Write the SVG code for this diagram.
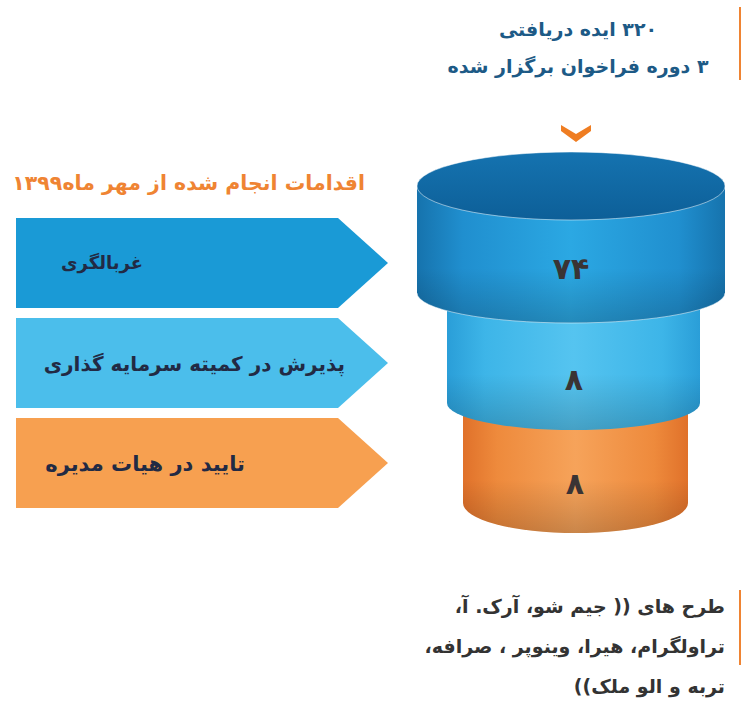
<svg xmlns="http://www.w3.org/2000/svg" width="741" height="708" viewBox="0 0 741 708">
<style>
text{font-family:"DejaVu Sans","Noto Sans",sans-serif;direction:rtl}
.hd{fill:#1d5a86;font-weight:bold;font-size:19px}
.or{fill:#ef8433;font-weight:bold;font-size:20.5px}
.lbl{fill:#222a44;font-weight:bold}
.num{fill:#3a3434;font-size:30px;font-weight:bold}
.bt{fill:#333;font-weight:bold;font-size:19px}
</style>
<defs>
<linearGradient id="gTop" x1="0" y1="0" x2="1" y2="0">
<stop offset="0" stop-color="#1673ad"/><stop offset="0.15" stop-color="#208fcf"/><stop offset="0.5" stop-color="#2ba8e3"/><stop offset="0.85" stop-color="#208fcf"/><stop offset="1" stop-color="#1673ad"/>
</linearGradient>
<linearGradient id="gTopLid" x1="0" y1="0" x2="0" y2="1">
<stop offset="0" stop-color="#1573b0"/><stop offset="1" stop-color="#0d5f98"/>
</linearGradient>
<linearGradient id="gMid" x1="0" y1="0" x2="1" y2="0">
<stop offset="0" stop-color="#2a9ed8"/><stop offset="0.15" stop-color="#3db5e8"/><stop offset="0.5" stop-color="#55c4f0"/><stop offset="0.85" stop-color="#3db5e8"/><stop offset="1" stop-color="#2a9ed8"/>
</linearGradient>
<linearGradient id="gBot" x1="0" y1="0" x2="1" y2="0">
<stop offset="0" stop-color="#e0712a"/><stop offset="0.15" stop-color="#ee8a3c"/><stop offset="0.5" stop-color="#f6a35a"/><stop offset="0.85" stop-color="#ee8a3c"/><stop offset="1" stop-color="#e0712a"/>
</linearGradient>
<linearGradient id="shade" x1="0" y1="0" x2="0" y2="1">
<stop offset="0" stop-color="#000" stop-opacity="0"/><stop offset="0.6" stop-color="#000" stop-opacity="0"/><stop offset="1" stop-color="#000" stop-opacity="0.18"/>
</linearGradient>
</defs>
<rect width="741" height="708" fill="#fff"/>
<rect x="739" y="7" width="2" height="73" fill="#ef8433"/>
<rect x="739" y="590" width="2" height="75" fill="#ef8433"/>

<g id="header">
<text class="hd" x="578" y="36" text-anchor="middle">۳۲۰ ایده دریافتی</text>
<text class="hd" x="578" y="73" text-anchor="middle">۳ دوره فراخوان برگزار شده</text>
</g>
<g id="chevron"><path d="M561,125 L576,134 L591,125 L591,131 L576,142 L561,131 Z" fill="#ef7d22"/></g>

<g id="title"><text class="or" x="365" y="190" text-anchor="start">اقدامات انجام شده از مهر ماه۱۳۹۹</text></g>

<g id="step1">
<path d="M16,218 L338,218 L388,263 L338,308 L16,308 Z" fill="#1a9ad6"/>
<text class="lbl" x="143" y="269" font-size="18" text-anchor="start">غربالگری</text>
</g>
<g id="step2">
<path d="M16,318 L338,318 L388,363 L338,408 L16,408 Z" fill="#4bbeeb"/>
<text class="lbl" x="345" y="371" font-size="20" text-anchor="start">پذیرش در کمیته سرمایه گذاری</text>
</g>
<g id="step3">
<path d="M16,418 L338,418 L388,463 L338,508 L16,508 Z" fill="#f7a050"/>
<text class="lbl" x="245" y="471" font-size="21" text-anchor="start">تایید در هیات مدیره</text>
</g>

<g id="level3">
<path d="M463,400 L463,503 A112.5,30 0 0 0 688,503 L688,400 Z" fill="url(#gBot)"/>
<path d="M463,400 L463,503 A112.5,30 0 0 0 688,503 L688,400 Z" fill="url(#shade)"/>
<text class="num" x="575" y="494" text-anchor="middle">۸</text>
</g>
<g id="level2">
<path d="M447,290 L447,403 A126.5,27 0 0 0 700,403 L700,290 Z" fill="url(#gMid)"/>
<path d="M447,290 L447,403 A126.5,27 0 0 0 700,403 L700,290 Z" fill="url(#shade)"/>
<text class="num" x="574" y="390" text-anchor="middle">۸</text>
</g>
<g id="level1">
<path d="M417,186 L417,293 A154,30 0 0 0 725,293 L725,186 Z" fill="url(#gTop)"/>
<path d="M417,186 L417,293 A154,30 0 0 0 725,293 L725,186 Z" fill="url(#shade)"/>
<path d="M417,293 A154,30 0 0 0 725,293" fill="none" stroke="#ffffff" stroke-opacity="0.5" stroke-width="1"/>
<ellipse cx="571" cy="186" rx="154" ry="34" fill="url(#gTopLid)" stroke="#ffffff" stroke-opacity="0.5" stroke-width="1"/>
<text class="num" x="571" y="279" text-anchor="middle">۷۴</text>
</g>

<g id="note">
<text class="bt" x="725" y="613" text-anchor="start">طرح های (( جیم شو، آرک. آ،</text>
<text class="bt" x="725" y="653" text-anchor="start">تراولگرام، هیرا، وینوپر ، صرافه،</text>
<text class="bt" x="725" y="693" text-anchor="start">تربه و الو ملک))</text>
</g>
</svg>
